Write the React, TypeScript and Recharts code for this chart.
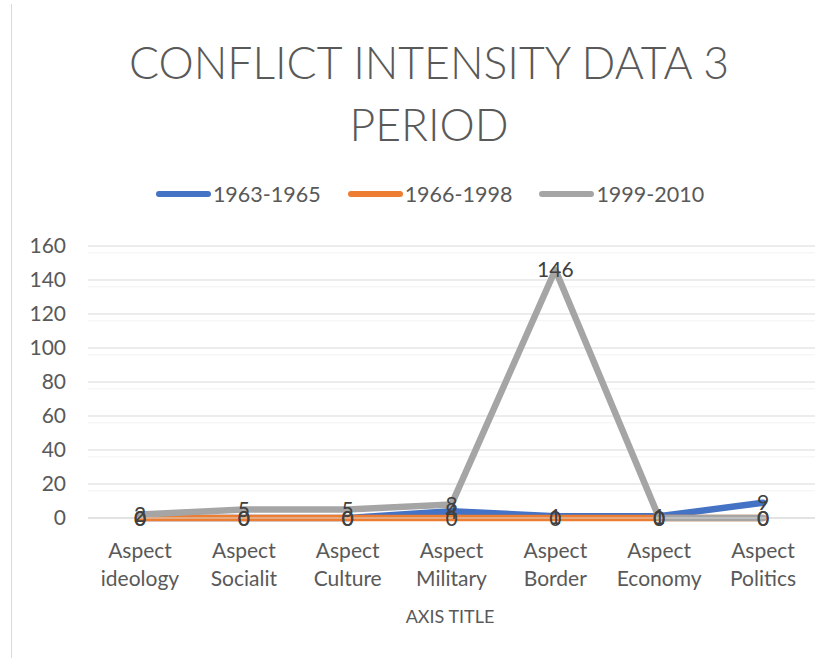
import React from 'react';
import { LineChart, Line, XAxis, YAxis, CartesianGrid, LabelList } from 'recharts';

const categories = ['Aspect ideology', 'Aspect Socialit', 'Aspect Culture', 'Aspect Military', 'Aspect Border', 'Aspect Economy', 'Aspect Politics'];
const seriesNames = ['1963-1965', '1966-1998', '1999-2010'];
const values1963 = [0, 0, 0, 4, 1, 1, 9];
const values1966 = [0, 0, 0, 0, 0, 0, 0];
const values1999 = [2, 5, 5, 8, 146, 0, 0];
const yTicks = [0, 20, 40, 60, 80, 100, 120, 140, 160];
const minorTicks = [4, 8, 12, 16, 24, 28, 32, 36, 44, 48, 52, 56, 64, 68, 72, 76, 84, 88, 92, 96, 104, 108, 112, 116, 124, 128, 132, 136, 144, 148, 152, 156];
const colors = ['#4472C4', '#ED7D31', '#A5A5A5'];
const title = ['CONFLICT INTENSITY DATA 3', 'PERIOD'];
const xAxisTitle = 'AXIS TITLE';

const data = categories.map((c, i) => ({
  name: c,
  s0: values1963[i],
  s1: values1966[i],
  s2: values1999[i],
}));

const FONT = 'Lato, "Open Sans", sans-serif';

const XTick = (props: any) => {
  const { x, y, payload } = props;
  const parts = String(payload.value).split(' ');
  return (
    <text x={x} y={y} textAnchor="middle" fill="#595959" fontSize={21} fontFamily={FONT}>
      <tspan x={x} dy={40}>{parts[0]}</tspan>
      <tspan x={x} dy={28}>{parts.slice(1).join(' ')}</tspan>
    </text>
  );
};

const DataLabel = (props: any) => {
  const { x, y, value } = props;
  return (
    <text x={x} y={y} dy={-1} textAnchor="middle" dominantBaseline="central" fill="#404040" fontSize={21} fontFamily={FONT}>
      {value}
    </text>
  );
};

export default function App() {
  return (
    <div style={{ position: 'fixed', left: 0, top: 0, width: 831, height: 658, background: '#fff', fontFamily: FONT }}>
      <div style={{ position: 'absolute', left: 11, top: 4, width: 1, height: 654, background: '#d9d9d9' }} />
      <div style={{ position: 'absolute', left: 0, top: 31, width: 858, textAlign: 'center', color: '#595959', fontSize: 44.5, fontWeight: 300, lineHeight: '62px' }}>
        <div>{title[0]}</div>
        <div>{title[1]}</div>
      </div>
      <div style={{ position: 'absolute', left: 0, top: 181, width: 860, display: 'flex', justifyContent: 'center', gap: 27, color: '#595959', fontSize: 21.5 }}>
        {seriesNames.map((n, i) => (
          <div key={n} style={{ display: 'flex', alignItems: 'center' }}>
            <div style={{ width: 55, height: 6, borderRadius: 3, background: colors[i], marginRight: 2 }} />
            <span>{n}</span>
          </div>
        ))}
      </div>
      <div style={{ position: 'absolute', left: 0, top: 605, width: 900, textAlign: 'center', color: '#595959', fontSize: 18 }}>
        {xAxisTitle}
      </div>
      <div style={{ position: 'absolute', left: 0, top: 0 }}>
        <LineChart width={831} height={658} data={data} margin={{ top: 246, right: 16, bottom: 0, left: 0 }}>
          <CartesianGrid vertical={false} horizontalValues={minorTicks} stroke="#f2f2f2" strokeWidth={1} />
          <CartesianGrid vertical={false} stroke="#d9d9d9" strokeWidth={1} />
          <XAxis
            dataKey="name"
            height={140}
            padding={{ left: 52, right: 52 }}
            axisLine={{ stroke: '#d9d9d9' }}
            tickLine={false}
            tickSize={0}
            tickMargin={0}
            tick={<XTick />}
            interval={0}
          />
          <YAxis
            width={88}
            domain={[0, 160]}
            ticks={yTicks}
            axisLine={false}
            tickLine={false}
            tickSize={0}
            tickMargin={22}
            tick={{ fill: '#595959', fontSize: 21, fontFamily: FONT }}
          />
          {['s0', 's1', 's2'].map((k, i) => (
            <Line
              key={k}
              dataKey={k}
              name={seriesNames[i]}
              stroke={colors[i]}
              strokeWidth={6.5}
              strokeLinecap="round"
              strokeLinejoin="round"
              dot={false}
              activeDot={false}
              isAnimationActive={false}
            >
              <LabelList dataKey={k} content={<DataLabel />} />
            </Line>
          ))}
        </LineChart>
      </div>
    </div>
  );
}
